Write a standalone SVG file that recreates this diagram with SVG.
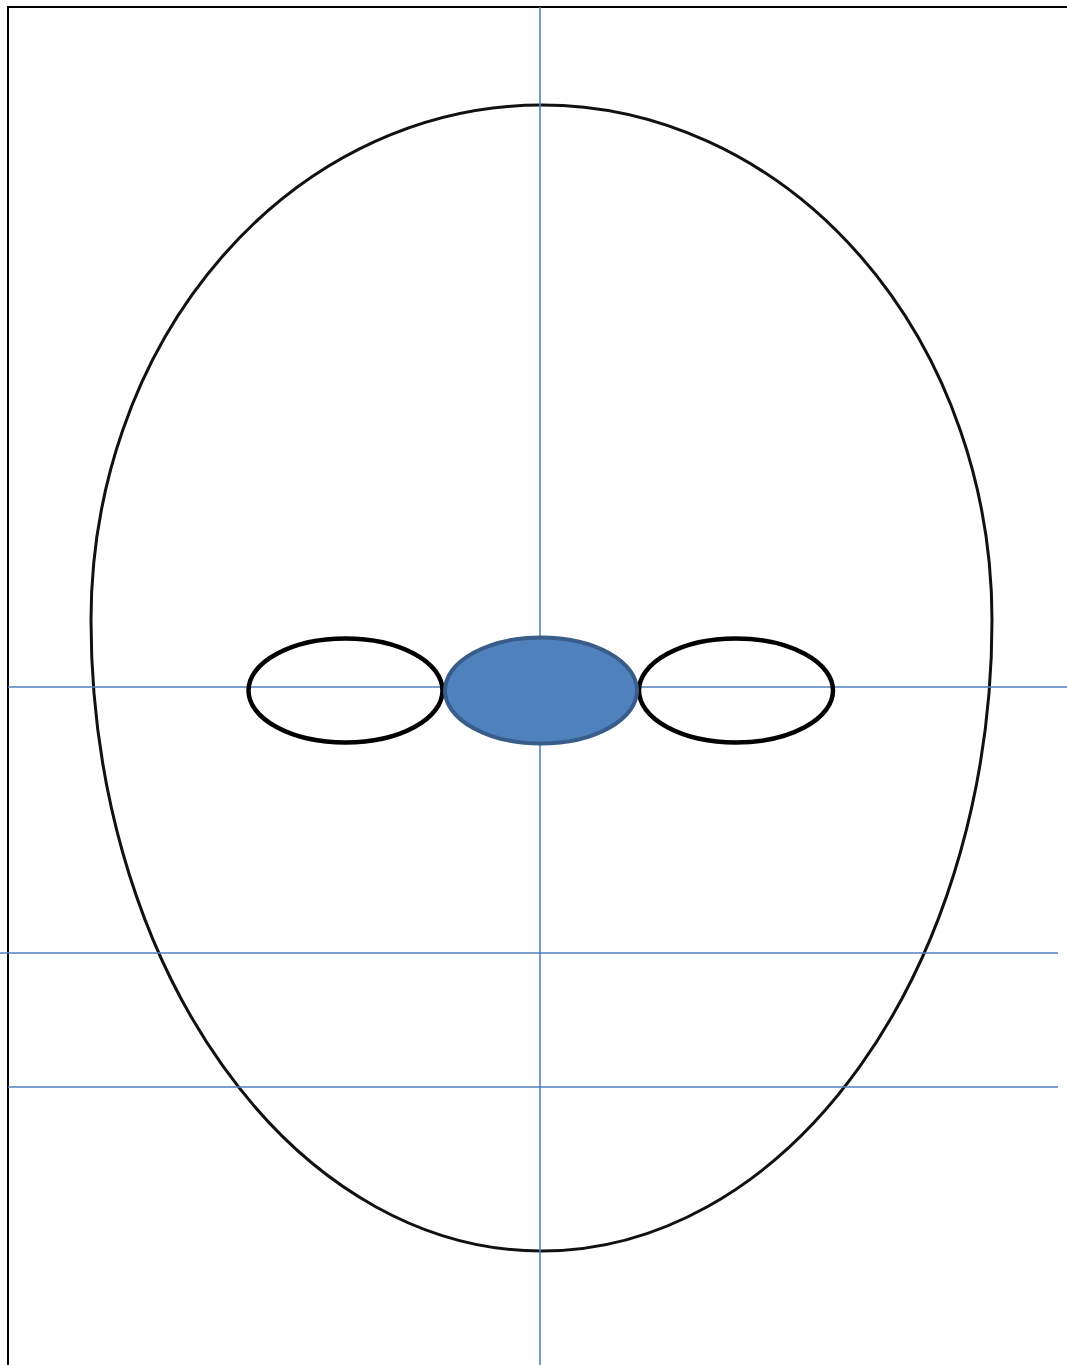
<svg xmlns="http://www.w3.org/2000/svg" width="1067" height="1365" viewBox="0 0 1067 1365">
<style>
.guide{stroke:#4F81BD;stroke-width:1.6;fill:none}
.frame{stroke:#000;stroke-width:2;fill:none}
.eye{fill:none;stroke:#000;stroke-width:4.5}
</style>
<rect width="1067" height="1365" fill="#fff"/>
<g id="frame">
<path class="frame" d="M8,1365 V7 H1067"/>
</g>
<g id="face">
<path d="M91,620 A450.5,515 0 0 1 992,620 A450.5,631 0 0 1 91,620 Z" fill="none" stroke="#111" stroke-width="3"/>
</g>
<g id="connectors">
<line class="guide" x1="540" y1="7" x2="540" y2="1365"/>
<line class="guide" x1="8" y1="687" x2="1067" y2="687"/>
<line class="guide" x1="0" y1="953" x2="1058" y2="953"/>
<line class="guide" x1="8" y1="1087" x2="1058" y2="1087"/>
</g>
<g id="left-eye"><ellipse class="eye" cx="345.5" cy="690.5" rx="97" ry="52"/></g>
<g id="right-eye"><ellipse class="eye" cx="736" cy="690.5" rx="97" ry="52"/></g>
<g id="center"><ellipse cx="541" cy="690.5" rx="96" ry="53" fill="#4F81BD" stroke="#385D8A" stroke-width="4"/></g>
</svg>
